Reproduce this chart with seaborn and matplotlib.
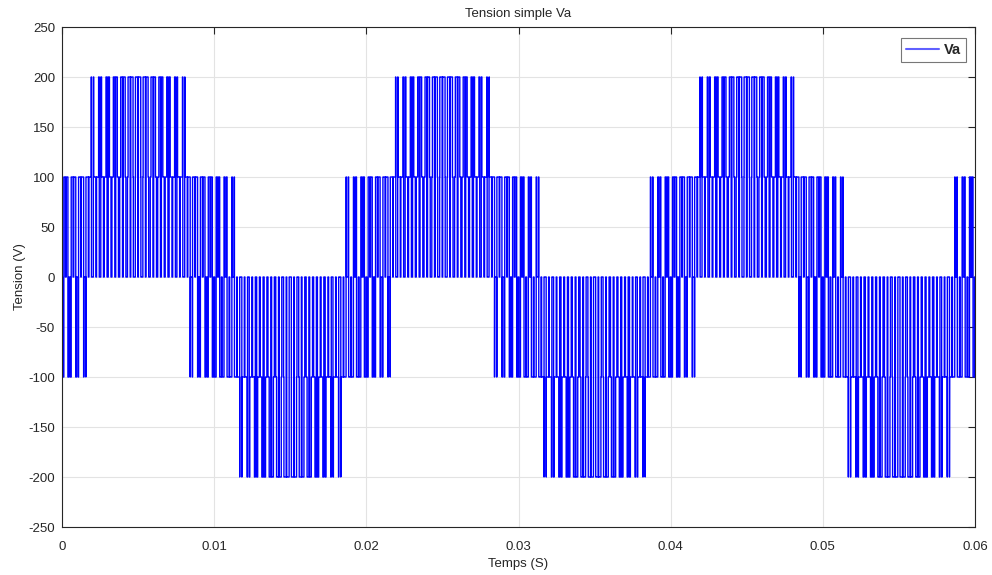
import numpy as np
import pandas as pd
import matplotlib
matplotlib.use("Agg")
import matplotlib.pyplot as plt
import seaborn as sns

# ---- data (3-phase SPWM inverter, phase voltage Va) ----
dc_voltage = 300.0          # levels seen: 0, +-100, +-200 -> Vdc = 300 V
f_fundamental = 50.0        # one period = 0.02 s
f_carrier = 2000.0          # ~40 pulses per fundamental period
mod_index = 0.85
t_end = 0.06
phase_shifts = [0.0, -2 * np.pi / 3, 2 * np.pi / 3]

x_ticks = [0, 0.01, 0.02, 0.03, 0.04, 0.05, 0.06]
x_tick_labels = ["0", "0.01", "0.02", "0.03", "0.04", "0.05", "0.06"]
y_ticks = [-250, -200, -150, -100, -50, 0, 50, 100, 150, 200, 250]
y_tick_labels = ["-250", "-200", "-150", "-100", "-50", "0", "50", "100", "150", "200", "250"]

# ---- simulate the sine-triangle comparison ----
t = np.linspace(0.0, t_end, 120001)
carrier = 2.0 * np.abs(2.0 * ((t * f_carrier) % 1.0) - 1.0) - 1.0
switches = [(mod_index * np.sin(2 * np.pi * f_fundamental * t + ph) > carrier).astype(float)
            for ph in phase_shifts]
va = dc_voltage / 3.0 * (2 * switches[0] - switches[1] - switches[2])
df = pd.DataFrame({"Temps (S)": t, "Tension (V)": va, "serie": "Va"})

# ---- figure ----
sns.set_theme(style="white")
plt.rcParams["font.family"] = ["Liberation Sans", "DejaVu Sans"]
fig = plt.figure(figsize=(9.92, 5.75), dpi=100)
ax = fig.add_axes([62 / 992, 1 - 527 / 575, (975 - 62) / 992, (527 - 27) / 575])

sns.lineplot(data=df, x="Temps (S)", y="Tension (V)", hue="serie", palette=["#0000ff"],
             estimator=None, sort=False, drawstyle="steps-post", linewidth=1.0, ax=ax)

ax.set_xlim(0, t_end)
ax.set_ylim(-250, 250)
ax.set_xticks(x_ticks)
ax.set_xticklabels(x_tick_labels)
ax.set_yticks(y_ticks)
ax.set_yticklabels(y_tick_labels)
ax.grid(True, color="#e3e3e3", linewidth=0.8)
ax.set_axisbelow(True)
for s in ax.spines.values():
    s.set_color("#262626")
    s.set_linewidth(0.8)
    s.set_visible(True)
ax.tick_params(direction="in", length=5, width=0.8, color="#262626",
               top=True, right=True, labelsize=9.5, labelcolor="#262626")
ax.tick_params(axis="x", pad=10)
ax.tick_params(axis="y", pad=5)
ax.set_xlabel("Temps (S)", fontsize=9.5, color="#262626", labelpad=4)
ax.set_ylabel("Tension (V)", fontsize=9.5, color="#262626", labelpad=2)
ax.set_title("Tension simple Va", fontsize=9.5, color="#262626", pad=7)

leg = ax.legend(loc="upper right", bbox_to_anchor=(1 - 9 / 913, 1 - 11 / 500),
                borderaxespad=0, frameon=True, fancybox=False,
                handlelength=2.3, handletextpad=0.3, borderpad=0.35,
                prop={"weight": "bold", "size": 10.5})
leg.get_frame().set_edgecolor("#555555")
leg.get_frame().set_linewidth(0.8)
for line in leg.get_lines():
    line.set_color("#6060ff")
    line.set_linewidth(1.5)

fig.savefig("out.png", dpi=100, facecolor="white")
